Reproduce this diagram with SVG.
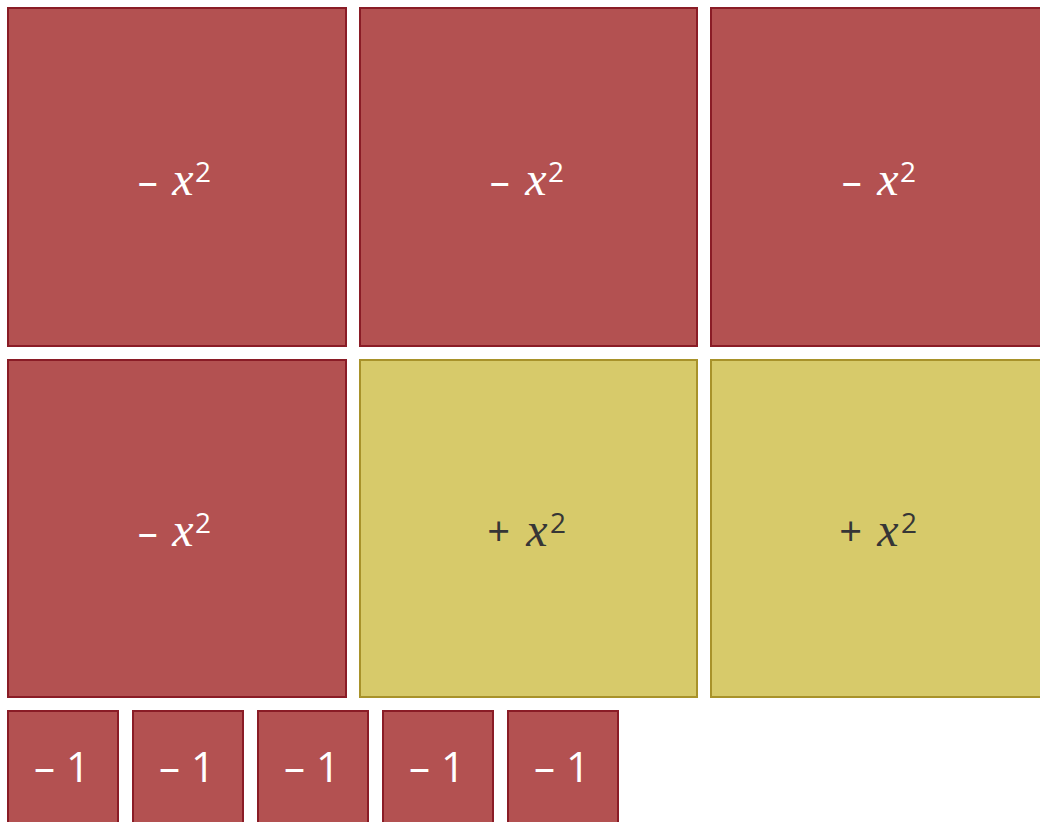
<svg xmlns="http://www.w3.org/2000/svg" width="1040" height="822" viewBox="0 0 1040 822">
<style>
.neg{fill:#b35151;stroke:#8a1c26;stroke-width:2}
.pos{fill:#d7ca6a;stroke:#a8922a;stroke-width:2}
.t{font-family:"Open Sans",sans-serif;font-size:40px;text-anchor:middle}
.u{font-family:"Open Sans",sans-serif;font-size:42px;text-anchor:middle}
.w{fill:#ffffff}
.d{fill:#363636}
.v{font-family:"Liberation Serif","Times New Roman",serif;font-style:italic;font-size:48px}
.s{font-family:"Open Sans",sans-serif;font-style:normal;font-size:28px;text-anchor:start}
</style>
<rect width="1040" height="822" fill="#ffffff"/>
<g id="n1"><rect class="neg" x="8" y="8" width="338" height="338"/><text class="t w" y="195"><tspan x="153">– </tspan><tspan class="v" x="183">x</tspan><tspan class="s" x="195" y="182">2</tspan></text></g>
<g id="n2"><rect class="neg" x="360" y="8" width="337" height="338"/><text class="t w" y="195"><tspan x="505">– </tspan><tspan class="v" x="536">x</tspan><tspan class="s" x="548" y="182">2</tspan></text></g>
<g id="n3"><rect class="neg" x="711" y="8" width="338" height="338"/><text class="t w" y="195"><tspan x="857">– </tspan><tspan class="v" x="888">x</tspan><tspan class="s" x="900" y="182">2</tspan></text></g>
<g id="n4"><rect class="neg" x="8" y="360" width="338" height="337"/><text class="t w" y="546"><tspan x="153">– </tspan><tspan class="v" x="183">x</tspan><tspan class="s" x="195" y="533">2</tspan></text></g>
<g id="n5"><rect class="pos" x="360" y="360" width="337" height="337"/><text class="t d" y="546"><tspan x="504">+ </tspan><tspan class="v" x="537">x</tspan><tspan class="s" x="550" y="533">2</tspan></text></g>
<g id="n6"><rect class="pos" x="711" y="360" width="338" height="337"/><text class="t d" y="546"><tspan x="856">+ </tspan><tspan class="v" x="888">x</tspan><tspan class="s" x="901" y="533">2</tspan></text></g>
<g id="u1"><rect class="neg" x="8" y="711" width="110" height="112"/><text class="u w" x="62" y="782">– 1</text></g>
<g id="u2"><rect class="neg" x="133" y="711" width="110" height="112"/><text class="u w" x="187" y="782">– 1</text></g>
<g id="u3"><rect class="neg" x="258" y="711" width="110" height="112"/><text class="u w" x="312" y="782">– 1</text></g>
<g id="u4"><rect class="neg" x="383" y="711" width="110" height="112"/><text class="u w" x="437" y="782">– 1</text></g>
<g id="u5"><rect class="neg" x="508" y="711" width="110" height="112"/><text class="u w" x="562" y="782">– 1</text></g>
<g id="connectors"/>
</svg>
